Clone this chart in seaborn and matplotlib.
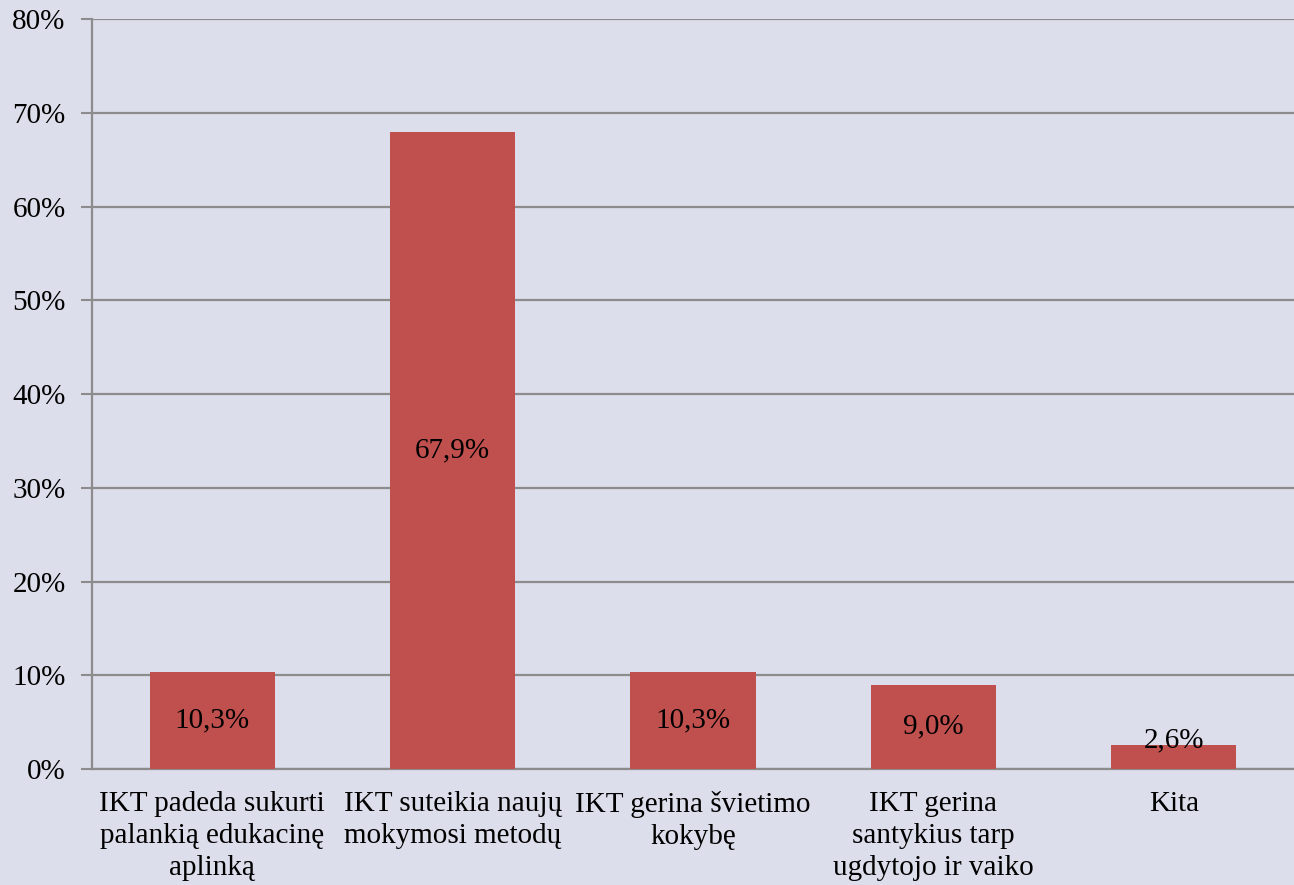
import numpy as np
import pandas as pd
import matplotlib
matplotlib.use("Agg")
import matplotlib.pyplot as plt
import seaborn as sns
from matplotlib.ticker import PercentFormatter

categories = [
    "IKT padeda sukurti\npalankią edukacinę\naplinką",
    "IKT suteikia naujų\nmokymosi metodų",
    "IKT gerina švietimo\nkokybę",
    "IKT gerina\nsantykius tarp\nugdytojo ir vaiko",
    "Kita",
]
values = [10.3, 67.9, 10.3, 9.0, 2.6]
labels = ["10,3%", "67,9%", "10,3%", "9,0%", "2,6%"]
y_ticks = [0, 10, 20, 30, 40, 50, 60, 70, 80]

BG = "#DDDEEB"
BAR = "#C0504D"
GRID = "#8C8C8C"
FS = 21

sns.set_theme(style="white")
plt.rcParams["font.family"] = ["Liberation Serif", "DejaVu Serif"]
plt.rcParams["text.color"] = "black"
plt.rcParams["xtick.color"] = "black"
plt.rcParams["ytick.color"] = "black"

df = pd.DataFrame({"cat": categories, "val": values})

fig = plt.figure(figsize=(12.94, 8.85), dpi=100, facecolor=BG)
ax = fig.add_axes([92 / 1294, 1 - 769 / 885, 1 - 92 / 1294, (769 - 19) / 885])
ax.set_facecolor(BG)

sns.barplot(data=df, x="cat", y="val", color=BAR, width=0.52, saturation=1,
            linewidth=0, edgecolor=BAR, ax=ax, zorder=3)

ax.set_xlim(-0.5, len(categories) - 0.5)
ax.set_ylim(0, 80)
ax.set_yticks(y_ticks)
ax.yaxis.set_major_formatter(PercentFormatter(decimals=0))
ax.grid(axis="y", color=GRID, lw=1.6, zorder=0)
ax.set_xlabel("")
ax.set_ylabel("")

# tick marks between categories
ax.set_xticks(np.arange(-0.5, len(categories), 1.0), minor=True)
ax.tick_params(axis="x", which="major", length=0, pad=16, labelsize=FS,
               labelcolor="black")
ax.tick_params(axis="x", which="minor", length=8, width=1.5, color=GRID, direction="out")
ax.tick_params(axis="y", length=8, width=1.5, color=GRID, pad=11, labelsize=FS,
               labelcolor="black", left=True, direction="out")
for t in ax.get_xticklabels():
    t.set_linespacing(1.3)
    t.set_verticalalignment("top")
    t.set_multialignment("center")

for s in ["top", "right"]:
    ax.spines[s].set_visible(False)
for s in ["left", "bottom"]:
    ax.spines[s].set_color(GRID)
    ax.spines[s].set_linewidth(1.6)

for i, (v, lab) in enumerate(zip(values, labels)):
    ax.text(i, max(v / 2, 3.1), lab, ha="center", va="center", fontsize=FS,
            color="black", zorder=4)

fig.savefig("out.png", dpi=100, facecolor=BG)
